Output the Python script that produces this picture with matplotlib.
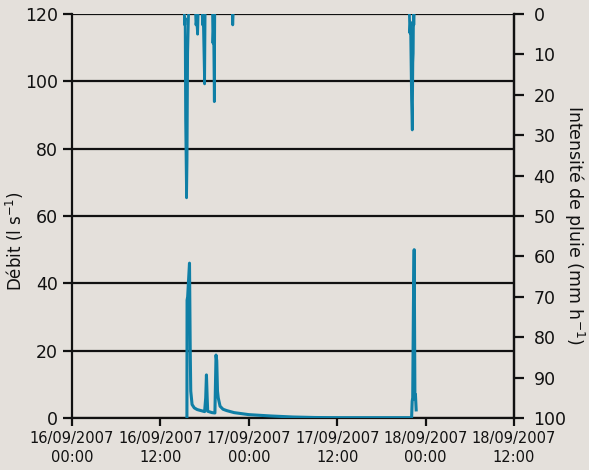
import matplotlib
matplotlib.use("Agg")
import matplotlib.pyplot as plt
import matplotlib.dates as mdates
import numpy as np
import pandas as pd

# ---- data (hours since 16/09/2007 00:00) ----
START = pd.Timestamp("2007-09-16 00:00")

flow_hours = [15.60, 15.62, 15.70, 15.95, 16.05, 16.12, 16.30, 16.60, 17.00, 17.50,
              18.00, 18.15, 18.25, 18.35, 18.42, 19.00, 19.40, 19.55, 19.65, 19.75,
              19.85, 20.10, 20.50, 21.00, 22.00, 24.00, 27.00, 30.00, 33.00, 36.00,
              46.10, 46.18, 46.25, 46.35, 46.45, 46.55, 46.62, 46.72]
flow_values = [0, 35, 36, 46, 20, 8, 4, 3, 2.5, 2.2,
               1.9, 6, 12.8, 6, 2.0, 1.6, 1.5, 18.7, 17, 8,
               6, 3.5, 2.6, 2.2, 1.6, 1.0, 0.6, 0.3, 0.15, 0.1,
               0.1, 5, 6, 34, 50, 5.5, 7, 2.4]

# rain intensity, NaN separates showers
rain_hours = [15.25, 15.30, 15.36, 15.42, 15.55, 15.62, 15.70, 15.82, np.nan,
              16.78, 16.83, 16.93, 17.05, 17.12, np.nan,
              17.68, 17.73, 17.82, 18.00, 18.07, np.nan,
              19.08, 19.13, 19.22, 19.32, 19.38, np.nan,
              21.78, 21.82, 21.88, np.nan,
              45.80, 45.86, 45.95, 46.09, 46.19, 46.27, 46.32, 46.36, 46.40, 46.45]
rain_values = [0, 2.7, 1, 26, 45.5, 36, 9.7, 0, np.nan,
               0, 2.7, 1.5, 5, 0, np.nan,
               0, 2.7, 1, 17.3, 0, np.nan,
               0, 7.2, 3, 21.7, 0, np.nan,
               0, 2.7, 0, np.nan,
               0, 4.7, 2, 21, 28.7, 12, 9.7, 0, 2.7, 0]

x_tick_hours = [0, 12, 24, 36, 48, 60]
flow_ticks = [0, 20, 40, 60, 80, 100, 120]
rain_ticks = [0, 10, 20, 30, 40, 50, 60, 70, 80, 90, 100]

# ---- style ----
BG = "#e4e0db"
LINE = "#0f7fa6"
INK = "#111111"

def to_time(hours):
    return [START + pd.Timedelta(hours=h) if not np.isnan(h) else pd.NaT for h in hours]

fig = plt.figure(figsize=(5.89, 4.70), dpi=100, facecolor=BG)
ax = fig.add_axes([72/589, 1-418/470, (514-72)/589, (418-14)/470])
ax.set_facecolor(BG)
ax2 = ax.twinx()

ft = mdates.date2num(to_time(flow_hours))
ax.plot(ft, flow_values, color=LINE, lw=2.2, zorder=3)

rt = np.array([mdates.date2num(t) if t is not pd.NaT else np.nan for t in to_time(rain_hours)])
ax2.plot(rt, rain_values, color=LINE, lw=2.0, zorder=3)

xt = mdates.date2num(to_time(x_tick_hours))
ax.set_xlim(xt[0], xt[-1])
ax.set_xticks(xt)
ax.xaxis.set_major_formatter(mdates.DateFormatter("%d/%m/%Y\n%H:%M"))
ax.set_ylim(0, 120)
ax.set_yticks(flow_ticks)
ax2.set_ylim(100, 0)
ax2.set_yticks(rain_ticks)

for a in (ax, ax2):
    a.spines["top"].set_visible(False)
    for s in a.spines.values():
        s.set_linewidth(1.6)
        s.set_color(INK)
ax2.spines["left"].set_visible(False)
ax2.spines["bottom"].set_visible(False)

ax.yaxis.grid(True, color=INK, lw=1.6, zorder=1)
ax.set_axisbelow(True)
ax.tick_params(axis="y", direction="out", length=6.5, width=1.6, labelsize=12.5, colors=INK, pad=3.5)
ax.tick_params(axis="x", direction="out", length=6, width=1.6, labelsize=10.5, colors=INK, pad=3)
ax2.tick_params(axis="y", direction="out", length=7, width=1.6, labelsize=12.5, colors=INK, pad=7)
for lbl in ax.get_xticklabels():
    lbl.set_linespacing(1.4)

ax.set_ylabel(r"Débit (l s$^{-1}$)", fontsize=12, color=INK)
ax.yaxis.set_label_coords(-0.105, 0.437)
ax2.set_ylabel(r"Intensité de pluie (mm h$^{-1}$)", fontsize=12.5, color=INK, rotation=270)
ax2.yaxis.set_label_coords(1.163, 0.478)

fig.savefig("out.png", dpi=100, facecolor=BG)
